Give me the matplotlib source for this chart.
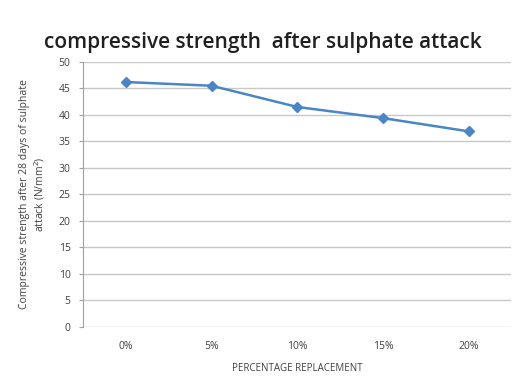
import matplotlib
matplotlib.use("Agg")
import matplotlib.pyplot as plt

# Data
categories = ["0%", "5%", "10%", "15%", "20%"]
strength = [46.2, 45.5, 41.5, 39.4, 36.9]
y_ticks = list(range(0, 51, 5))

plt.rcParams["font.family"] = ["Open Sans", "DejaVu Sans"]

fig = plt.figure(figsize=(5.16, 3.82), dpi=100)
ax = fig.add_axes([0.161, 0.144, 0.83, 0.694])

x = list(range(len(categories)))
ax.plot(x, strength, color="#4a86c5", linewidth=1.8, marker="D", markersize=5)

ax.set_xlim(-0.5, len(categories) - 0.5)
ax.set_ylim(0, 50)
ax.set_yticks(y_ticks)
ax.set_xticks(x)
ax.set_xticklabels(categories)
ax.tick_params(axis="both", labelsize=7.5, colors="#404040")
ax.tick_params(axis="x", length=0, pad=10)
ax.tick_params(axis="y", length=3, color="#a0a0a0", pad=6)

ax.grid(axis="y", color="#c8c8c8", linewidth=1)
ax.set_axisbelow(True)
for s in ["top", "right", "bottom"]:
    ax.spines[s].set_visible(False)
ax.spines["left"].set_color("#a0a0a0")

ax.set_xlabel("PERCENTAGE REPLACEMENT", fontsize=7, color="#404040", labelpad=8)
ax.set_ylabel("Compressive strength after 28 days of sulphate\nattack (N/mm$^2$)",
              fontsize=7.5, color="#404040", labelpad=8)

fig.suptitle("compressive strength  after sulphate attack", x=0.51, y=0.915,
             fontsize=15, fontweight="semibold", color="#202020")

fig.savefig("out.png", dpi=100)
